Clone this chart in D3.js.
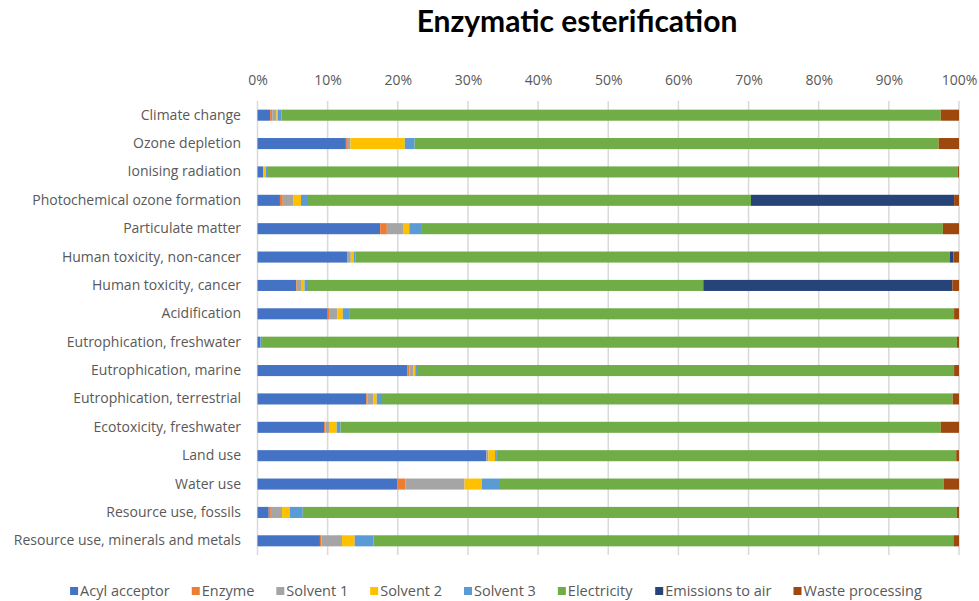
<!DOCTYPE html>
<html>
<head>
<meta charset="utf-8">
<script src="https://cdn.jsdelivr.net/npm/d3@7"></script>
<style>
  html, body { margin: 0; padding: 0; background: #fff; }
  svg { display: block; }
</style>
</head>
<body>
<svg id="chart" width="979" height="601"></svg>
<script>
// Impact categories, top to bottom
const categories = [
  "Climate change",
  "Ozone depletion",
  "Ionising radiation",
  "Photochemical ozone formation",
  "Particulate matter",
  "Human toxicity, non-cancer",
  "Human toxicity, cancer",
  "Acidification",
  "Eutrophication, freshwater",
  "Eutrophication, marine",
  "Eutrophication, terrestrial",
  "Ecotoxicity, freshwater",
  "Land use",
  "Water use",
  "Resource use, fossils",
  "Resource use, minerals and metals"
];

// Contribution shares (%) of each process per category
const acylAcceptor    = [1.8, 12.6, 0.8, 3.2, 17.5, 12.8, 5.5, 10.0, 0.4, 21.4, 15.5, 9.5, 32.6, 19.9, 1.6, 8.9];
const enzyme          = [0.3, 0.15, 0.05, 0.4, 0.95, 0.1, 0.1, 0.3, 0.0, 0.25, 0.2, 0.2, 0.0, 1.2, 0.3, 0.2];
const solvent1        = [0.6, 0.5, 0.05, 1.55, 2.3, 0.4, 0.6, 1.05, 0.0, 0.55, 0.85, 0.5, 0.33, 8.4, 1.6, 2.95];
const solvent2        = [0.2, 7.75, 0.3, 1.05, 0.9, 0.4, 0.5, 0.8, 0.0, 0.3, 0.45, 1.1, 0.95, 2.45, 1.1, 1.8];
const solvent3        = [0.5, 1.4, 0.3, 1.0, 1.8, 0.3, 0.5, 0.9, 0.25, 0.25, 0.75, 0.55, 0.25, 2.6, 1.85, 2.7];
const electricity     = [94.0, 74.7, 98.3, 63.15, 74.3, 84.7, 56.35, 86.2, 99.05, 76.6, 81.35, 85.65, 65.5, 63.2, 93.2, 82.65];
const emissionsToAir  = [0, 0, 0, 28.95, 0, 0.5, 35.5, 0, 0, 0, 0, 0, 0, 0, 0, 0];
const wasteProcessing = [2.6, 2.9, 0.2, 0.7, 2.3, 0.8, 0.95, 0.7, 0.3, 0.7, 0.9, 2.6, 0.4, 2.2, 0.3, 0.8];

const seriesNames  = ["Acyl acceptor", "Enzyme", "Solvent 1", "Solvent 2", "Solvent 3", "Electricity", "Emissions to air", "Waste processing"];
const seriesColors = ["#4472C4", "#ED7D31", "#A5A5A5", "#FFC000", "#5B9BD5", "#70AD47", "#264478", "#9E480E"];
const seriesValues = [acylAcceptor, enzyme, solvent1, solvent2, solvent3, electricity, emissionsToAir, wasteProcessing];

const tickValues = [0, 10, 20, 30, 40, 50, 60, 70, 80, 90, 100];

const chartTitle = "Enzymatic esterification";

// Rows: each category with its series values, normalised to 100%
const rows = categories.map((c, i) => {
  const row = { category: c };
  const total = d3.sum(seriesValues, s => s[i]);
  seriesNames.forEach((n, k) => { row[n] = seriesValues[k][i] / total * 100; });
  return row;
});

const stacked = d3.stack().keys(seriesNames)(rows);

const svg = d3.select("#chart");
const font = "'Open Sans', sans-serif";
const titleFont = "Lato, sans-serif";
const textColor = "#595959";

const plotLeft = 257.5, plotRight = 959;
const plotTop = 101, plotBottom = 555;

const x = d3.scaleLinear().domain([0, 100]).range([plotLeft, plotRight]);
const y = d3.scaleBand().domain(categories).range([plotTop, plotBottom]).paddingInner(0.61).paddingOuter(0.305);

// Title
svg.append("text")
  .attr("x", 577).attr("y", 32)
  .attr("text-anchor", "middle")
  .attr("font-family", titleFont)
  .attr("font-weight", "bold")
  .attr("font-size", 30)
  .attr("fill", "#000")
  .text(chartTitle);

// Vertical gridlines
svg.append("g")
  .selectAll("line")
  .data(tickValues)
  .join("line")
  .attr("x1", d => x(d)).attr("x2", d => x(d))
  .attr("y1", plotTop).attr("y2", plotBottom)
  .attr("stroke", "#D9D9D9")
  .attr("stroke-width", 1.5);

// Top axis labels
const xAxis = d3.axisTop(x).tickValues(tickValues).tickFormat(d => d + "%").tickSize(0).tickPadding(0);
const gx = svg.append("g").attr("transform", `translate(0,${85})`).call(xAxis);
gx.select(".domain").remove();
gx.selectAll("text")
  .attr("font-family", font)
  .attr("font-size", 14)
  .attr("fill", textColor);

// Category labels
const yAxis = d3.axisLeft(y).tickSize(0).tickPadding(0);
const gy = svg.append("g").attr("transform", `translate(${241},0)`).call(yAxis);
gy.select(".domain").remove();
gy.selectAll("text")
  .attr("font-family", font)
  .attr("font-size", 14)
  .attr("fill", textColor);

// Stacked bars
svg.append("g")
  .selectAll("g")
  .data(stacked)
  .join("g")
  .attr("fill", (d, i) => seriesColors[i])
  .selectAll("rect")
  .data(d => d)
  .join("rect")
  .attr("x", d => x(d[0]))
  .attr("width", d => Math.max(0, x(d[1]) - x(d[0])))
  .attr("y", d => y(d.data.category))
  .attr("height", y.bandwidth());

// Legend, centred below the plot
const legend = svg.append("g").attr("transform", `translate(0,${596})`);
const items = legend.selectAll("g").data(seriesNames).join("g");
items.append("rect")
  .attr("width", 8).attr("height", 8)
  .attr("y", -9)
  .attr("fill", (d, i) => seriesColors[i]);
items.append("text")
  .attr("x", 10)
  .attr("font-family", font)
  .attr("font-size", 14.5)
  .attr("fill", textColor)
  .text(d => d);

const gap = 22;
const widths = [];
items.each(function() { widths.push(this.getBBox().width); });
const totalW = d3.sum(widths) + gap * (widths.length - 1);
let cx = 496 - totalW / 2;
items.each(function(d, i) {
  d3.select(this).attr("transform", `translate(${cx},0)`);
  cx += widths[i] + gap;
});
</script>
</body>
</html>
